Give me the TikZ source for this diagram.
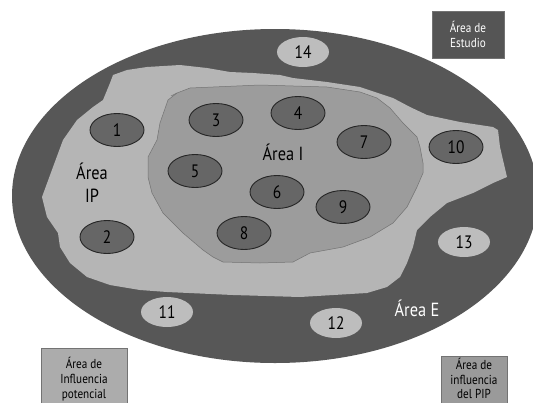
\documentclass[tikz,border=0pt]{standalone}
\usepackage{fontspec}
\setmainfont[FakeStretch=0.86]{PT Sans}
\usetikzlibrary{shapes.geometric}
\definecolor{outerc}{HTML}{575757}
\definecolor{ipc}{HTML}{B5B5B5}
\definecolor{areaic}{HTML}{9C9C9C}
\definecolor{darkel}{HTML}{666666}
\definecolor{lightel}{HTML}{BDBDBD}
\definecolor{boxdark}{HTML}{555555}
\definecolor{boxlight}{HTML}{ACACAC}
\definecolor{boxmid}{HTML}{9A9A9A}
\tikzset{
  darkell/.style={ellipse, draw=black!85, line width=0.9pt, fill=darkel, minimum width=54pt, minimum height=33pt, inner sep=0pt, font=\fontsize{18}{18}\selectfont},
  lightell/.style={ellipse, fill=lightel, minimum width=52pt, minimum height=30pt, inner sep=0pt, font=\fontsize{18}{18}\selectfont},
  arealabel/.style={font=\fontsize{19}{23}\selectfont, align=center, inner sep=0pt},
  legbox/.style={draw=black!55, line width=1pt, inner sep=0pt, align=center, font=\fontsize{13}{15}\selectfont},
}
\begin{document}
\begin{tikzpicture}[x=1pt,y=-1pt]
\useasboundingbox (0,0) rectangle (533,402);
\clip (0,0) rectangle (533,402);
\fill[white] (0,0) rectangle (533,402);
% outer area (Area E)
\fill[outerc] (275,196) ellipse [x radius=263pt, y radius=167pt];
% Area IP
\fill[ipc] (113,75) -- (127,70) -- (147,67) -- (180,65) -- (207,68) -- (230,72) -- (253,73) -- (280,75) -- (293,78) -- (327,82) -- (360,87) -- (393,98) -- (410,107) -- (427,115) -- (460,122) -- (493,127) -- (498,130) -- (500,147) -- (503,160) -- (507,177) -- (493,183) -- (473,193) -- (447,203) -- (430,217) -- (417,230) -- (413,247) -- (407,263) -- (400,277) -- (387,287) -- (367,293) -- (300,297) -- (233,295) -- (167,292) -- (140,290) -- (110,285) -- (87,277) -- (70,263) -- (60,247) -- (58,233) -- (47,217) -- (42,197) -- (53,167) -- (63,140) -- (77,120) -- (93,107) -- (103,100) -- (110,83) -- cycle;
% Area I
\filldraw[fill=areaic, draw=black!55, line width=0.5pt] (177,93) -- (190,88) -- (260,85) -- (327,87) -- (360,92) -- (377,98) -- (390,108) -- (403,123) -- (417,137) -- (420,147) -- (423,163) -- (423,173) -- (417,187) -- (407,207) -- (393,223) -- (370,237) -- (343,247) -- (310,253) -- (293,262) -- (260,263) -- (223,262) -- (213,257) -- (203,250) -- (183,233) -- (163,213) -- (152,193) -- (148,177) -- (148,157) -- (157,140) -- (160,123) -- (168,100) -- cycle;
\draw[black!55, line width=0.5pt] (177,93) -- (171,96);
% numbered ellipses
\node[darkell] (n1) at (117,130) {1};
\node[darkell] (n2) at (107,237) {2};
\node[darkell] (n3) at (216,120) {3};
\node[darkell] (n4) at (298,113) {4};
\node[darkell] (n5) at (195,171) {5};
\node[darkell] (n6) at (277,192) {6};
\node[darkell] (n7) at (364,142) {7};
\node[darkell] (n8) at (244,233) {8};
\node[darkell] (n9) at (343,207) {9};
\node[darkell] (n10) at (456,147) {10};
\node[lightell] (n11) at (167,312) {11};
\node[lightell] (n12) at (336,323) {12};
\node[lightell] (n13) at (464,242) {13};
\node[lightell] (n14) at (303,52) {14};
% area labels
\node[arealabel] (lip) at (92,183) {Área\\IP};
\node[arealabel] (li) at (283,152) {Área I};
\node[arealabel, text=white] (le) at (417,308) {Área E};
% legend boxes
\node[legbox, fill=boxdark, text=white, minimum width=72pt, minimum height=47pt] (bestudio) at (468,34.5) {Área de\\Estudio};
\node[legbox, fill=boxlight, text=black, minimum width=86pt, minimum height=62pt, anchor=north] (bpot) at (84,348) {Área de\\Influencia\\potencial};
\node[legbox, fill=boxmid, text=black, minimum width=66pt, minimum height=56pt, anchor=north, font=\fontsize{13}{14.5}\selectfont] (bpip) at (474,356) {Área de\\influencia\\del PIP\\[-3pt]};
\end{tikzpicture}
\end{document}
